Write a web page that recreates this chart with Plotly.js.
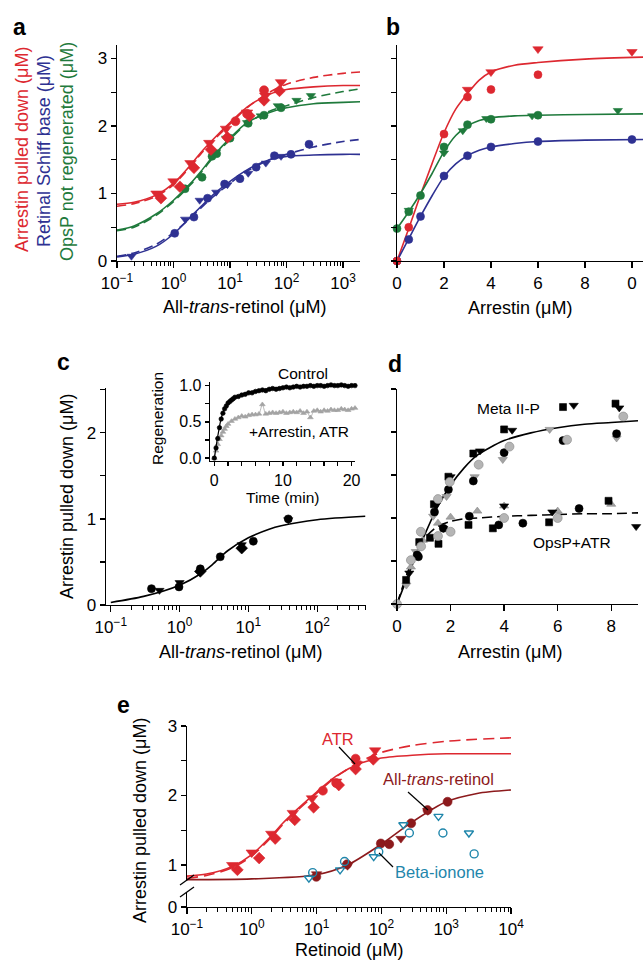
<!DOCTYPE html>
<html><head><meta charset="utf-8">
<script src="https://cdn.plot.ly/plotly-3.0.1.min.js"></script>
<style>html,body{margin:0;padding:0;background:#fff}</style>
</head><body><div id="plot" style="width:643px;height:963px"></div>
<script>
// ---------------- DATA ----------------
// Panel a: All-trans-retinol (µM) vs responses
const aRedTriX = [0.5,1.0,2.0,4.3,8.5,20,42,80];
const aRedTriY = [1.0,1.18,1.45,1.75,1.96,2.2,2.45,2.65];
const aRedDiaX = [0.6,1.3,2.3,4.6,9,22,40,75];
const aRedDiaY = [0.93,1.1,1.38,1.65,1.83,2.15,2.38,2.52];
const aRedCirX = [12.5,20,40];
const aRedCirY = [2.07,2.18,2.53];
const aGreenCirX = [1.6,3.2,4.8,5.8,10,21,40,80];
const aGreenCirY = [1.07,1.24,1.55,1.59,1.82,2.04,2.16,2.27];
const aGreenTriX = [8.5,20,35,70,150,270];
const aGreenTriY = [1.82,2.05,2.15,2.3,2.38,2.45];
const aBlueCirX = [1.05,2.3,4.0,8,15,29,61,120,250];
const aBlueCirY = [0.41,0.65,0.93,1.14,1.22,1.39,1.56,1.58,1.73];
const aBlueTriX = [0.18,1.6,2.9,5.7,9,21,43,80];
const aBlueTriY = [0.07,0.62,0.9,1.02,1.13,1.3,1.45,1.55];
const fitX = [0.1,0.2,0.5,1,2,3,5,10,20,50,100,300,1000,2000,10000];
const redSolid  = [0.84,0.87,0.98,1.15,1.42,1.6,1.8,2.05,2.28,2.47,2.54,2.58,2.6,2.6,2.6];
const redDashed = [0.81,0.85,0.96,1.13,1.4,1.58,1.78,2.03,2.27,2.5,2.62,2.72,2.78,2.8,2.83];
const greenSolid  = [0.46,0.52,0.7,0.9,1.15,1.32,1.55,1.82,2.05,2.2,2.27,2.33,2.35,2.36];
const greenDashed = [0.45,0.5,0.68,0.88,1.13,1.3,1.53,1.8,2.04,2.22,2.3,2.42,2.51,2.55];
const blueSolid  = [0.06,0.1,0.22,0.4,0.65,0.8,0.98,1.18,1.35,1.5,1.55,1.57,1.58,1.58];
const blueDashed = [0.07,0.12,0.25,0.42,0.64,0.78,0.95,1.15,1.33,1.5,1.58,1.69,1.77,1.8];

// Panel b: Arrestin (µM)
const bRedCirX = [0,0.5,2,3,4,6];
const bRedCirY = [0,0.5,1.88,2.43,2.54,2.76];
const bRedTriX = [3,4,6,10];
const bRedTriY = [2.54,2.8,3.14,3.1];
const bGreenCirX = [0,0.5,1,2,3,4,6];
const bGreenCirY = [0.48,0.73,0.97,1.69,2.02,2.1,2.16];
const bGreenTriX = [0.5,2,2.8,3.8,5.75,9.4];
const bGreenTriY = [0.75,1.6,1.93,2.11,2.15,2.23];
const bBlueCirX = [0,0.5,1,2,3,4,6,10];
const bBlueCirY = [0,0.32,0.66,1.26,1.56,1.69,1.77,1.8];
const bFitX = [0,0.5,1,1.5,2,2.5,3,3.5,4,5,6,8,10.5];
const bRedFit   = [0,0.48,0.98,1.45,1.9,2.25,2.48,2.68,2.8,2.9,2.94,2.99,3.02];
const bGreenFit = [0.48,0.73,1.0,1.3,1.62,1.86,2.0,2.08,2.12,2.15,2.16,2.17,2.18];
const bBlueFit  = [0,0.33,0.66,0.97,1.25,1.44,1.56,1.64,1.69,1.74,1.77,1.79,1.8];

// Panel c
const cCirX = [0.39,0.98,2.0,3.9,11.8,38];
const cCirY = [0.19,0.21,0.42,0.56,0.74,1.0];
const cTriX = [0.51,1.0,8,38];
const cTriY = [0.17,0.26,0.7,0.99];
const cDiaX = [2.0,8];
const cDiaY = [0.39,0.66];
const cFitX = [0.1,0.3,1,2,3,5,10,20,30,100,500];
const cFitY = [0.03,0.1,0.23,0.36,0.47,0.63,0.78,0.88,0.92,0.99,1.03];
// Panel c inset: regeneration vs time (min)
const ctrlT = [0,0.25,0.5,0.75,1,1.25,1.5,1.75,2,2.25,2.5,2.75,3,3.5,4,4.5,5,5.5,6,6.5,7,7.5,8,8.5,9,9.5,10,10.5,11,11.5,12,12.5,13,13.5,14,14.5,15,15.5,16,16.5,17,17.5,18,18.5,19,19.5,20,20.5,21];
const ctrlR = [0,0.14,0.27,0.42,0.54,0.62,0.68,0.72,0.76,0.78,0.8,0.82,0.84,0.85,0.87,0.88,0.9,0.9,0.92,0.93,0.94,0.93,0.95,0.96,0.95,0.96,0.97,0.98,0.97,0.98,0.99,0.98,0.99,0.99,1.0,0.99,1.0,1.0,0.99,1.0,1.01,1.0,1.0,1.01,1.0,0.99,1.0,1.0,0.99];
const atrT = [0,0.25,0.5,0.75,1,1.25,1.5,1.75,2,2.5,3,3.5,4,4.5,5,5.5,6,6.5,7,7.5,8,8.5,9,9.5,10,10.5,11,11.5,12,12.5,13,13.5,14,14.5,15,15.5,16,16.5,17,17.5,18,18.5,19,19.5,20,20.5,21];
const atrR = [0,0.1,0.19,0.26,0.31,0.36,0.4,0.44,0.47,0.51,0.54,0.56,0.58,0.57,0.59,0.6,0.6,0.61,0.74,0.61,0.62,0.63,0.62,0.63,0.64,0.62,0.63,0.64,0.63,0.65,0.62,0.64,0.56,0.65,0.66,0.64,0.66,0.65,0.67,0.66,0.66,0.68,0.67,0.66,0.68,0.69,0.69];
const ctrlFitT = [0,0.5,1,1.5,2,3,4,6,8,10,14,21];
const ctrlFitR = [0,0.3,0.55,0.69,0.76,0.84,0.88,0.93,0.96,0.98,0.99,1.0];
const atrFitR  = [0,0.2,0.33,0.42,0.48,0.54,0.57,0.6,0.62,0.63,0.65,0.68];

// Panel d: Meta II-P and OpsP+ATR vs arrestin
const dMetaSqX = [0.34,0.83,1.38,1.92,2.85,4.0,6.2,8.16];
const dMetaSqY = [0.28,0.72,1.16,1.48,1.75,2.03,2.29,2.33];
const dMetaTriX = [0.46,1.45,2.0,3.1,4.3,6.6,8.3];
const dMetaTriY = [0.36,1.15,1.48,1.78,2.02,2.31,2.28];
const dMetaCirX = [0.8,1.4,1.92,2.85,4.0,6.2,8.2];
const dMetaCirY = [0.55,1.07,1.33,1.43,1.76,1.9,1.98];
const dMetaGCirX = [0,0.52,0.89,1.53,1.97,3.05,4.2,6.35,8.45];
const dMetaGCirY = [0,0.51,0.84,1.22,1.42,1.62,1.83,1.91,2.18];
const dMetaGTriX = [0.35,0.7,1.35,1.85,2.9,3.95,5.7,8.2];
const dMetaGTriY = [0.22,0.61,1.02,1.25,1.48,1.68,2.03,1.93];
const dOpsSqX = [1.23,1.55,2.67,3.58,5.68,7.9];
const dOpsSqY = [0.77,0.7,0.92,0.88,0.95,1.2];
const dOpsTriX = [1.73,4.0,5.8,8.93];
const dOpsTriY = [0.88,1.14,1.07,0.9];
const dOpsCirX = [0.75,1.73,2.7,3.8,4.7,6.8];
const dOpsCirY = [0.57,0.88,1.02,0.92,0.94,1.11];
const dOpsGCirX = [0.9,1.53,2.0,4.0,6.0];
const dOpsGCirY = [0.67,0.79,0.84,1.0,1.0];
const dOpsGTriX = [0.52,0.96,1.53,2.0,3.0,4.0,6.0,8.0];
const dOpsGTriY = [0.43,0.74,0.94,1.01,1.08,1.14,1.08,1.16];
const dFitX = [0,0.5,1,1.5,2,2.5,3,4,5,6,7,8,9];
const dMetaFit = [0,0.4,0.78,1.12,1.38,1.58,1.73,1.9,1.99,2.05,2.09,2.11,2.13];
const dOpsFit  = [0,0.45,0.75,0.9,0.96,0.99,1.0,1.02,1.03,1.04,1.05,1.05,1.06];

// Panel e: retinoid (µM)
const eRolCirX = [9.9,29.5,98,132,288,515,1050];
const eRolCirY = [0.83,1.01,1.31,1.3,1.6,1.79,1.91];
const eRolTriX = [10,30,200,520];
const eRolTriY = [0.87,0.99,1.38,1.78];
const eRolFitX = [0.1,1,10,30,100,300,1000,3000,10000];
const eRolFitY = [0.79,0.8,0.86,1.0,1.3,1.62,1.91,2.03,2.08];
const eIonTriX = [7.6,23,76,218,760,2240];
const eIonTriY = [0.81,0.93,1.12,1.58,1.7,1.46];
const eIonCirX = [8.7,27,91,270,890,2700];
const eIonCirY = [0.89,1.05,1.19,1.46,1.46,1.16];

// tick labels
const logTickVals = [0.1,1,10,100,1000,10000];
const logTickText = ['10<sup>−1</sup>','10<sup>0</sup>','10<sup>1</sup>','10<sup>2</sup>','10<sup>3</sup>','10<sup>4</sup>'];
const intVals = [0,1,2,3];
const intText = ['0','1','2','3'];

// ---------------- STYLE ----------------
const F = 'Liberation Sans, Arial, Helvetica, sans-serif';
const RED = '#dd2830', BLUE = '#2e3192', GREEN = '#1f7a3c', DKRED = '#8c1a1c', TEAL = '#1f86ab', GRAY = '#a3a3a3';
const W = 643, H = 963;
const PX = v => v / W, PY = v => 1 - v / H;
const logMinor = [];
for (let e = -1; e < 4; e++) for (let k = 2; k <= 9; k++) logMinor.push(k * Math.pow(10, e));

const traces = [];
function line(x, y, color, xa, ya, dash, width) {
  traces.push({x, y, xaxis: xa, yaxis: ya, mode: 'lines', type: 'scatter', hoverinfo: 'skip',
    line: {color, width: width || 1.6, dash: dash || 'solid', shape: 'spline', smoothing: 0.8}});
}
function pts(x, y, color, symbol, size, xa, ya, lineColor) {
  traces.push({x, y, xaxis: xa, yaxis: ya, mode: 'markers', type: 'scatter', cliponaxis: false, hoverinfo: 'skip',
    marker: {color, symbol, size, line: {color: lineColor || color, width: symbol.indexOf('open') >= 0 ? 1.4 : 0.6}}});
}

// Panel a
line(fitX, redDashed, RED, 'x', 'y', '9px,5px');
line(fitX, redSolid, RED, 'x', 'y');
line(fitX.slice(0, 14), greenDashed, GREEN, 'x', 'y', '9px,5px');
line(fitX.slice(0, 14), greenSolid, GREEN, 'x', 'y');
line(fitX.slice(0, 14), blueDashed, BLUE, 'x', 'y', '9px,5px');
line(fitX.slice(0, 14), blueSolid, BLUE, 'x', 'y');
pts(aBlueCirX, aBlueCirY, BLUE, 'circle', 8, 'x', 'y');
pts(aBlueTriX, aBlueTriY, BLUE, 'triangle-down', 8, 'x', 'y');
pts(aGreenCirX, aGreenCirY, GREEN, 'circle', 8, 'x', 'y');
pts(aGreenTriX, aGreenTriY, GREEN, 'triangle-down', 8, 'x', 'y');
pts(aRedDiaX, aRedDiaY, RED, 'diamond', 9, 'x', 'y');
pts(aRedTriX, aRedTriY, RED, 'triangle-down', 10, 'x', 'y');
pts(aRedCirX, aRedCirY, RED, 'circle', 9, 'x', 'y');

// Panel b
line(bFitX, bRedFit, RED, 'x2', 'y2');
line(bFitX, bGreenFit, GREEN, 'x2', 'y2');
line(bFitX, bBlueFit, BLUE, 'x2', 'y2');
pts(bBlueCirX, bBlueCirY, BLUE, 'circle', 8, 'x2', 'y2');
pts(bGreenCirX, bGreenCirY, GREEN, 'circle', 8, 'x2', 'y2');
pts(bGreenTriX, bGreenTriY, GREEN, 'triangle-down', 8, 'x2', 'y2');
pts(bRedCirX, bRedCirY, RED, 'circle', 8, 'x2', 'y2');
pts(bRedTriX, bRedTriY, RED, 'triangle-down', 9, 'x2', 'y2');

// Panel c
line(cFitX, cFitY, '#000', 'x3', 'y3');
pts(cCirX, cCirY, '#000', 'circle', 8, 'x3', 'y3');
pts(cTriX, cTriY, '#000', 'triangle-down', 8, 'x3', 'y3');
pts(cDiaX, cDiaY, '#000', 'diamond', 9, 'x3', 'y3');
// inset
line(atrT, atrR, GRAY, 'x4', 'y4', 'solid', 0.8);
pts(atrT, atrR, GRAY, 'triangle-up', 5, 'x4', 'y4');
line(ctrlFitT, ctrlFitR, '#000', 'x4', 'y4', 'solid', 1.2);
pts(ctrlT, ctrlR, '#000', 'circle', 4.5, 'x4', 'y4');

// Panel d
line(dFitX, dMetaFit, '#000', 'x5', 'y5');
line(dFitX, dOpsFit, '#000', 'x5', 'y5', '10px,5px');
pts(dMetaGTriX, dMetaGTriY, GRAY, 'triangle-down', 8, 'x5', 'y5', '#888');
pts(dOpsGTriX, dOpsGTriY, GRAY, 'triangle-up', 8, 'x5', 'y5', '#888');
pts(dMetaSqX, dMetaSqY, '#000', 'square', 7, 'x5', 'y5');
pts(dOpsSqX, dOpsSqY, '#000', 'square', 7, 'x5', 'y5');
pts(dMetaTriX, dMetaTriY, '#000', 'triangle-down', 8, 'x5', 'y5');
pts(dOpsTriX, dOpsTriY, '#000', 'triangle-down', 8, 'x5', 'y5');
pts(dMetaCirX, dMetaCirY, '#000', 'circle', 8, 'x5', 'y5');
pts(dOpsCirX, dOpsCirY, '#000', 'circle', 8, 'x5', 'y5');
pts(dMetaGCirX, dMetaGCirY, '#b5b5b5', 'circle', 9, 'x5', 'y5', '#888');
pts(dOpsGCirX, dOpsGCirY, '#b5b5b5', 'circle', 9, 'x5', 'y5', '#888');

// Panel e
line(fitX, redDashed, RED, 'x6', 'y6', '11px,6px');
line(fitX, redSolid, RED, 'x6', 'y6');
line(eRolFitX, eRolFitY, DKRED, 'x6', 'y6');
pts(aRedDiaX, aRedDiaY, RED, 'diamond', 9, 'x6', 'y6');
pts(aRedTriX, aRedTriY, RED, 'triangle-down', 10, 'x6', 'y6');
pts(aRedCirX, aRedCirY, RED, 'circle', 9, 'x6', 'y6');
pts(eRolCirX, eRolCirY, DKRED, 'circle', 9, 'x6', 'y6');
pts(eRolTriX, eRolTriY, DKRED, 'triangle-down', 9, 'x6', 'y6');
pts(eIonTriX, eIonTriY, TEAL, 'triangle-down-open', 8, 'x6', 'y6');
pts(eIonCirX, eIonCirY, TEAL, 'circle-open', 8, 'x6', 'y6');

// ---------------- AXES ----------------
const base = {showgrid: false, zeroline: false, showline: true, linecolor: '#000', linewidth: 1.3,
  ticks: 'outside', ticklen: 6, tickwidth: 1.3, tickcolor: '#000', fixedrange: true,
  tickfont: {family: F, size: 17, color: '#000'}, tickmode: 'array'};
const minorLog = {tickmode: 'array', tickvals: logMinor, ticks: 'outside', ticklen: 3.5, tickwidth: 1, tickcolor: '#000'};
const minorHalf = {tickmode: 'array', tickvals: [0.5, 1.5, 2.5], ticks: 'outside', ticklen: 5, tickwidth: 1.3, tickcolor: '#000'};
const halfVals = [0, 0.5, 1, 1.5, 2, 2.5, 3];

const layout = {
  width: W, height: H, margin: {l: 0, r: 0, t: 0, b: 0}, showlegend: false,
  paper_bgcolor: '#fff', plot_bgcolor: 'rgba(0,0,0,0)', font: {family: F, color: '#000'},
  xaxis: Object.assign({}, base, {type: 'log', domain: [PX(117), PX(360)], range: [-1, 3.3], anchor: 'y',
    tickvals: logTickVals, ticktext: logTickText, minor: minorLog}),
  yaxis: Object.assign({}, base, {domain: [PY(261), PY(45)], range: [0, 3.2], anchor: 'x', tickvals: intVals, ticktext: intText, ticklen: 5, minor: minorHalf}),
  xaxis2: Object.assign({}, base, {domain: [PX(397), 1], range: [0, 10.47], anchor: 'y2',
    tickvals: [0, 2, 4, 6, 8, 10], ticktext: ['0', '2', '4', '6', '8', '0']}),
  yaxis2: Object.assign({}, base, {domain: [PY(261), PY(45)], range: [0, 3.2], anchor: 'x2', tickvals: halfVals, showticklabels: false, ticklen: 5}),
  xaxis3: Object.assign({}, base, {type: 'log', domain: [PX(106), PX(366)], range: [-1.07, 2.71], anchor: 'y3',
    tickvals: logTickVals, ticktext: logTickText, minor: minorLog}),
  yaxis3: Object.assign({}, base, {domain: [PY(605), PY(388)], range: [0, 2.52], anchor: 'x3', tickvals: [0, 1, 2], ticktext: ['0', '1', '2'], ticklen: 5, minor: minorHalf}),
  xaxis4: Object.assign({}, base, {domain: [PX(210), PX(355)], range: [-0.63, 20.5], anchor: 'y4', ticklen: 4,
    tickvals: [0, 10, 20], ticktext: ['0', '10', '20'],
    minor: {tickmode: 'array', tickvals: [2, 4, 6, 8, 12, 14, 16, 18], ticks: 'outside', ticklen: 4, tickwidth: 1.3, tickcolor: '#000'},
    tickfont: {family: F, size: 16, color: '#000'}}),
  yaxis4: Object.assign({}, base, {domain: [PY(461), PY(382)], range: [-0.04, 1.05], anchor: 'x4', ticklen: 4,
    tickvals: [0, 0.5, 1], ticktext: ['0.0', '0.5', '1.0'],
    minor: {tickmode: 'array', tickvals: [0.25, 0.75], ticks: 'outside', ticklen: 4, tickwidth: 1.3, tickcolor: '#000'},
    tickfont: {family: F, size: 16, color: '#000'}}),
  xaxis5: Object.assign({}, base, {domain: [PX(397), PX(638)], range: [0, 9.0], anchor: 'y5', tickvals: [0, 2, 4, 6, 8], ticktext: ['0', '2', '4', '6', '8']}),
  yaxis5: Object.assign({}, base, {domain: [PY(604), PY(389)], range: [0, 2.5], anchor: 'x5', tickvals: halfVals, showticklabels: false, ticklen: 5}),
  xaxis6: Object.assign({}, base, {type: 'log', domain: [PX(187), PX(511)], range: [-1, 4], anchor: 'y6',
    tickvals: logTickVals, ticktext: logTickText, minor: minorLog}),
  yaxis6: Object.assign({}, base, {domain: [PY(907), PY(726)], range: [0.396, 3], anchor: 'x6', ticklen: 5,
    tickvals: [0.396, 1, 2, 3], ticktext: ['0', '1', '2', '3'],
    minor: {tickmode: 'array', tickvals: [1.5, 2.5], ticks: 'outside', ticklen: 5, tickwidth: 1.3, tickcolor: '#000'}}),
  annotations: [], shapes: []
};

function ann(text, x, y, size, extra) {
  layout.annotations.push(Object.assign({xref: 'paper', yref: 'paper', x: PX(x), y: PY(y), text, showarrow: false,
    xanchor: 'center', yanchor: 'middle', font: {family: F, size: size, color: '#000'}}, extra || {}));
}
function colored(text, x, y, size, color, extra) {
  ann(text, x, y, size, Object.assign({font: {family: F, size: size, color: color}}, extra || {}));
}
// panel letters
const bold = {family: 'Liberation Sans, Arial, sans-serif', size: 23, color: '#000'};
ann('<b>a</b>', 19, 27, 23, {font: bold});
ann('<b>b</b>', 393, 27, 23, {font: bold});
ann('<b>c</b>', 63, 362, 23, {font: bold});
ann('<b>d</b>', 395, 364, 23, {font: bold});
ann('<b>e</b>', 124, 705, 23, {font: bold});
// a titles
colored('Arrestin pulled down (μM)', 22, 150, 18, RED, {textangle: -90});
colored('Retinal Schiff base (μM)', 44, 151, 18, BLUE, {textangle: -90});
colored('OpsP not regenerated (μM)', 67, 152, 18, GREEN, {textangle: -90});
ann('All-<i>trans</i>-retinol (μM)', 244, 307, 18);
ann('Arrestin (μM)', 520, 308, 18);
// c titles
ann('Arrestin pulled down (μM)', 67, 497, 18, {textangle: -90});
ann('All-<i>trans</i>-retinol (μM)', 240, 652, 18);
ann('Regeneration', 157, 419, 15.5, {textangle: -90});
ann('Time (min)', 282, 497, 15.5);
ann('Control', 303, 373, 15.5);
ann('+Arrestin, ATR', 299, 431, 15.5);
// d titles
ann('Arrestin (μM)', 510, 652, 18);
ann('Meta II-P', 508, 408, 15.5);
ann('OpsP+ATR', 572, 542, 15.5);
// e titles
ann('Arrestin pulled down (μM)', 140, 821, 18, {textangle: -90});
ann('Retinoid (μM)', 349, 950, 18);
colored('ATR', 338, 739, 16.5, RED);
colored('All-<i>trans</i>-retinol', 438, 779, 16.5, DKRED);
colored('Beta-ionone', 440, 872, 16.5, TEAL);

function seg(x0, y0, x1, y1, color, width) {
  layout.shapes.push({type: 'line', xref: 'paper', yref: 'paper', x0: PX(x0), y0: PY(y0), x1: PX(x1), y1: PY(y1),
    line: {color: color, width: width || 1.2}, layer: 'above'});
}
seg(339, 747, 355, 764, '#000');
seg(408, 792, 428, 810, '#000');
seg(393, 867, 379, 853, '#000');
// axis break on panel e
layout.shapes.push({type: 'rect', xref: 'paper', yref: 'paper', x0: PX(183), x1: PX(191), y0: PY(892), y1: PY(881),
  fillcolor: '#fff', line: {width: 0}, layer: 'above'});
seg(180, 885, 194, 875, '#000', 1.3);
seg(180, 897, 194, 887, '#000', 1.3);

Plotly.newPlot('plot', traces, layout, {staticPlot: true});
</script></body></html>
